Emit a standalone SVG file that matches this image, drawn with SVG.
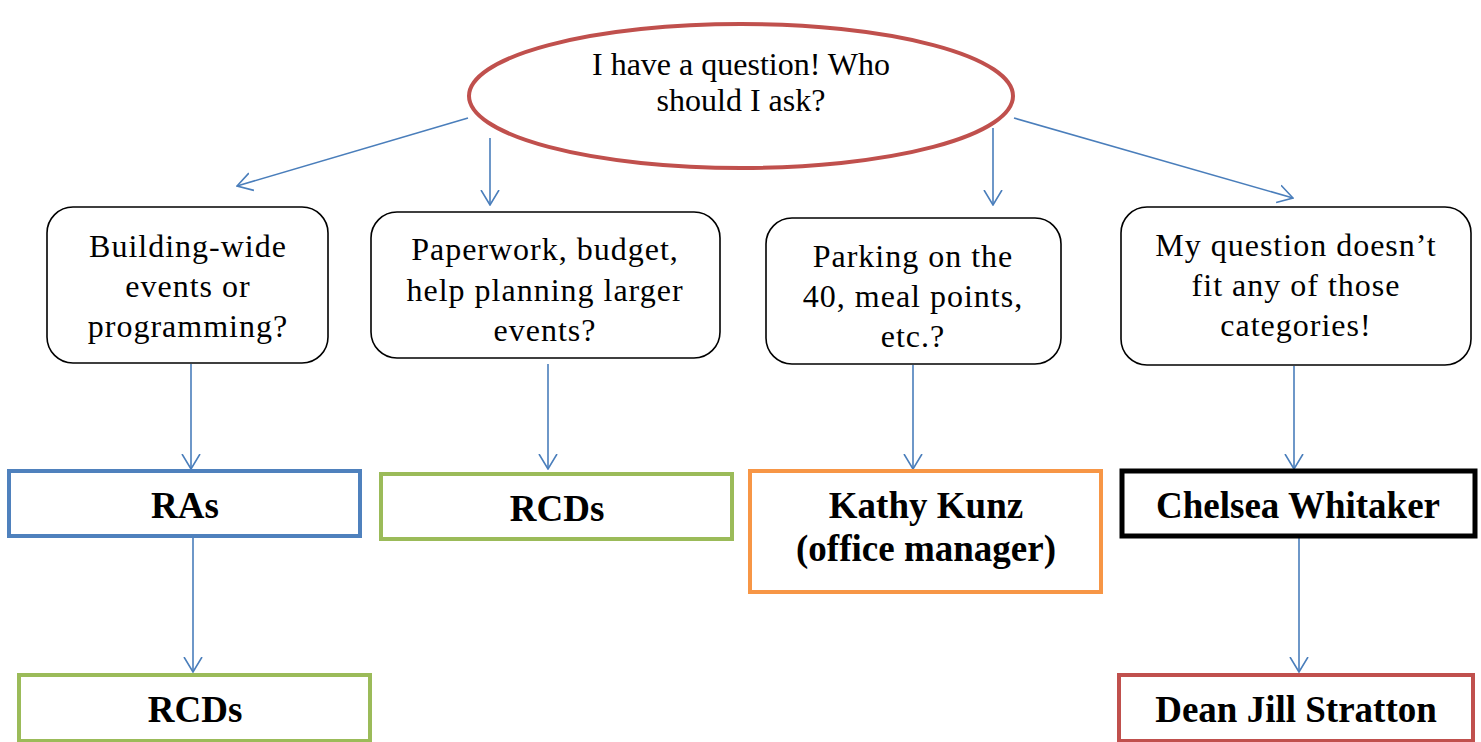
<svg xmlns="http://www.w3.org/2000/svg" width="1481" height="742" viewBox="0 0 1481 742">
<style>
.q{font-family:"Liberation Serif","Times New Roman",serif;font-size:32px;fill:#000;text-anchor:middle}
.b{font-family:"Liberation Serif","Times New Roman",serif;font-size:32px;letter-spacing:1px;fill:#000;text-anchor:middle}
.n{font-family:"Liberation Serif","Times New Roman",serif;font-size:37px;font-weight:bold;fill:#000;text-anchor:middle}
.rb{fill:#fff;stroke:#000;stroke-width:1.6}
.c{stroke:#4a7ebb;stroke-width:1.6;fill:none}
</style>
<defs>
<marker id="arr" markerUnits="userSpaceOnUse" viewBox="0 0 16 20" refX="15" refY="10" markerWidth="16" markerHeight="20" orient="auto">
<path d="M0,1 L15,10 L0,19" fill="none" stroke="#4a7ebb" stroke-width="1.6"/>
</marker>
</defs>
<rect width="1481" height="742" fill="#fff"/>
<g id="connectors">
<line class="c" x1="468" y1="118" x2="237" y2="186" marker-end="url(#arr)"/>
<line class="c" x1="490" y1="138" x2="490" y2="205" marker-end="url(#arr)"/>
<line class="c" x1="993" y1="128" x2="993" y2="205" marker-end="url(#arr)"/>
<line class="c" x1="1014" y1="118" x2="1293" y2="198" marker-end="url(#arr)"/>
<line class="c" x1="191" y1="364" x2="191" y2="469" marker-end="url(#arr)"/>
<line class="c" x1="548" y1="364" x2="548" y2="469" marker-end="url(#arr)"/>
<line class="c" x1="913" y1="365" x2="913" y2="469" marker-end="url(#arr)"/>
<line class="c" x1="1294" y1="366" x2="1294" y2="469" marker-end="url(#arr)"/>
<line class="c" x1="193" y1="538" x2="193" y2="672" marker-end="url(#arr)"/>
<line class="c" x1="1299" y1="538" x2="1299" y2="672" marker-end="url(#arr)"/>
</g>
<g id="question">
<ellipse cx="741" cy="96" rx="272" ry="72" fill="#fff" stroke="#c0504d" stroke-width="4"/>
<text class="q" x="741" y="75">I have a question! Who</text>
<text class="q" x="741" y="111">should I ask?</text>
</g>
<g id="q-building">
<rect class="rb" x="47" y="207" width="281" height="156" rx="26"/>
<text class="b" x="188" y="257">Building-wide</text>
<text class="b" x="188" y="297">events or</text>
<text class="b" x="188" y="337">programming?</text>
</g>
<g id="q-paperwork">
<rect class="rb" x="371" y="212" width="349" height="146" rx="26"/>
<text class="b" x="545" y="260">Paperwork, budget,</text>
<text class="b" x="545" y="301">help planning larger</text>
<text class="b" x="545" y="341">events?</text>
</g>
<g id="q-parking">
<rect class="rb" x="766" y="218" width="295" height="146" rx="26"/>
<text class="b" x="913" y="267">Parking on the</text>
<text class="b" x="913" y="307">40, meal points,</text>
<text class="b" x="913" y="347">etc.?</text>
</g>
<g id="q-other">
<rect class="rb" x="1121" y="207" width="350" height="158" rx="26"/>
<text class="b" x="1296" y="256">My question doesn’t</text>
<text class="b" x="1296" y="296">fit any of those</text>
<text class="b" x="1296" y="336">categories!</text>
</g>
<g id="ras">
<rect x="9" y="471" width="351" height="65" fill="#fff" stroke="#4f81bd" stroke-width="4"/>
<text class="n" x="185" y="518">RAs</text>
</g>
<g id="rcds-mid">
<rect x="381" y="474" width="351" height="65" fill="#fff" stroke="#9bbb59" stroke-width="4"/>
<text class="n" x="557" y="521">RCDs</text>
</g>
<g id="kathy">
<rect x="750" y="471" width="351" height="121" fill="#fff" stroke="#f79646" stroke-width="4"/>
<text class="n" x="926" y="518">Kathy Kunz</text>
<text class="n" x="926" y="561">(office manager)</text>
</g>
<g id="chelsea">
<rect x="1122" y="471" width="353" height="65" fill="#fff" stroke="#000" stroke-width="5"/>
<text class="n" x="1298" y="518">Chelsea Whitaker</text>
</g>
<g id="rcds-bottom">
<rect x="19" y="675" width="351" height="66" fill="#fff" stroke="#9bbb59" stroke-width="4"/>
<text class="n" x="195" y="722">RCDs</text>
</g>
<g id="dean">
<rect x="1119" y="675" width="354" height="66" fill="#fff" stroke="#c0504d" stroke-width="4"/>
<text class="n" x="1296" y="722">Dean Jill Stratton</text>
</g>
</svg>
